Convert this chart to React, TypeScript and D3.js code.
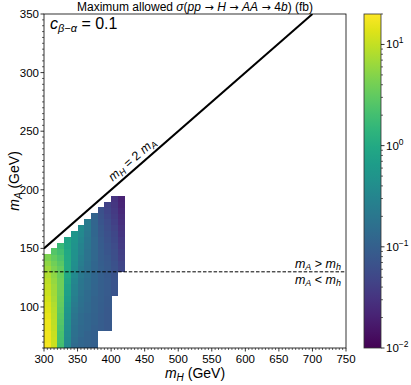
import React from "react";
import * as d3 from "d3";

// heatmap columns (m_H lower edge, 10 GeV wide) and the lowest m_A of each column (5 GeV rows)
const mHColumns = [300, 310, 320, 330, 340, 350, 360, 370, 380, 390, 400, 410];
const mABottom = [65, 65, 65, 65, 65, 65, 65, 65, 80, 80, 110, 130];

// max allowed sigma (fb), bottom row to top row
const sigma300 = [18, 17, 17, 16, 16, 15, 14, 13, 12, 11, 10, 9, 8, 6.5, 5.5, 4.5];
const sigma310 = [11, 11, 10.5, 10, 9.5, 9, 8.5, 8, 7.5, 7, 6.5, 6, 5.5, 4.5, 3.8, 3.2, 2.6];
const sigma320 = [2.0, 2.1, 2.2, 2.4, 2.6, 2.8, 3.0, 3.2, 3.4, 3.6, 3.7, 3.7, 3.5, 3.2, 2.8, 2.4, 2.0, 1.7];
const sigma330 = [0.36, 0.38, 0.4, 0.43, 0.46, 0.5, 0.55, 0.6, 0.66, 0.72, 0.8, 0.88, 0.95, 1.0, 1.0, 0.98, 0.94, 0.88, 0.82];
const sigma340 = [0.14, 0.15, 0.16, 0.17, 0.18, 0.19, 0.21, 0.23, 0.25, 0.27, 0.3, 0.33, 0.36, 0.4, 0.43, 0.46, 0.48, 0.5, 0.52, 0.52];
const sigma350 = [0.12, 0.12, 0.13, 0.13, 0.14, 0.14, 0.15, 0.16, 0.17, 0.18, 0.19, 0.2, 0.21, 0.22, 0.24, 0.26, 0.28, 0.3, 0.33, 0.36, 0.38];
const sigma360 = [0.11, 0.11, 0.11, 0.12, 0.12, 0.12, 0.13, 0.13, 0.14, 0.14, 0.15, 0.15, 0.16, 0.16, 0.17, 0.18, 0.18, 0.19, 0.2, 0.21, 0.22, 0.22];
const sigma370 = [0.1, 0.1, 0.1, 0.1, 0.105, 0.105, 0.11, 0.11, 0.11, 0.115, 0.115, 0.12, 0.12, 0.12, 0.12, 0.125, 0.125, 0.125, 0.125, 0.12, 0.12, 0.115, 0.11];
const sigma380 = [0.09, 0.09, 0.092, 0.094, 0.095, 0.096, 0.097, 0.098, 0.098, 0.097, 0.096, 0.094, 0.092, 0.09, 0.088, 0.085, 0.082, 0.078, 0.074, 0.07, 0.066];
const sigma390 = [0.08, 0.08, 0.081, 0.082, 0.083, 0.084, 0.085, 0.085, 0.085, 0.084, 0.083, 0.081, 0.078, 0.075, 0.072, 0.068, 0.064, 0.06, 0.056, 0.052, 0.048, 0.045];
const sigma400 = [0.072, 0.072, 0.071, 0.07, 0.068, 0.066, 0.063, 0.06, 0.057, 0.054, 0.05, 0.046, 0.042, 0.039, 0.036, 0.033, 0.031];
const sigma410 = [0.05, 0.047, 0.044, 0.041, 0.038, 0.035, 0.032, 0.03, 0.028, 0.026, 0.024, 0.022, 0.021];
const sigmaColumns = [sigma300, sigma310, sigma320, sigma330, sigma340, sigma350, sigma360, sigma370, sigma380, sigma390, sigma400, sigma410];

const xTicks = [300, 350, 400, 450, 500, 550, 600, 650, 700, 750];
const yTicks = [100, 150, 200, 250, 300, 350];
const cbarExponents = [1, 0, -1, -2];
const mhLine = 130;

const font = "'Liberation Sans', Arial, sans-serif";
const arrowFont = "'DejaVu Sans', sans-serif";

export default function App() {
  const left = 44, right = 346, top = 14, bottom = 348;
  const x = d3.scaleLinear().domain([300, 750]).range([left, right]);
  const y = d3.scaleLinear().domain([65, 350]).range([bottom, top]);
  const color = d3.scaleSequentialLog(d3.interpolateViridis).domain([0.01, 20]);
  const cbarY = d3.scaleLog().domain([0.01, 20]).range([bottom, top]);
  const cbX = 364, cbW = 17;

  const cells: { x: number; y: number; w: number; h: number; c: string }[] = [];
  mHColumns.forEach((mH, i) => {
    sigmaColumns[i].forEach((v, j) => {
      const mA = mABottom[i] + 5 * j;
      cells.push({
        x: x(mH),
        y: y(mA + 5),
        w: x(mH + 10) - x(mH),
        h: y(mA) - y(mA + 5),
        c: color(v),
      });
    });
  });

  const xMinor = d3.range(300, 751, 5).filter((v) => v % 50 !== 0);
  const yMinor = d3.range(65, 351, 5).filter((v) => v % 50 !== 0);
  const cbMinor: number[] = [];
  for (let d = -2; d <= 1; d++) {
    for (let k = 2; k <= 9; k++) {
      const v = k * Math.pow(10, d);
      if (v <= 20) cbMinor.push(v);
    }
  }
  const stops = d3.range(0, 1.0001, 0.05);

  // diagonal m_H = 2 m_A, label sits just above it
  const ang = (Math.atan2(y(150) - y(350), x(700) - x(300)) * 180) / Math.PI;
  const lx = x(440), ly = y(220);
  const rad = (ang * Math.PI) / 180;
  const off = 5;

  const sub = (s: string, fs: number, d: number) => (
    <tspan fontStyle="italic" fontSize={fs} dy={d}>{s}</tspan>
  );

  return (
    <svg width={411} height={385} style={{ position: "absolute", left: 0, top: 0, background: "#fff" }} fontFamily={font}>
      <defs>
        <clipPath id="plotClip">
          <rect x={left} y={top} width={right - left} height={bottom - top} />
        </clipPath>
        <linearGradient id="cbar" x1="0" y1="1" x2="0" y2="0">
          {stops.map((t) => (
            <stop key={t} offset={t} stopColor={d3.interpolateViridis(t)} />
          ))}
        </linearGradient>
      </defs>

      {/* heatmap */}
      <g shapeRendering="crispEdges">
        {cells.map((c, i) => (
          <rect key={i} x={c.x} y={c.y} width={c.w + 0.4} height={c.h + 0.4} fill={c.c} />
        ))}
      </g>

      <g clipPath="url(#plotClip)">
        <line x1={x(300)} y1={y(150)} x2={x(700)} y2={y(350)} stroke="#000" strokeWidth={2} />
        <line x1={left} x2={right} y1={y(mhLine)} y2={y(mhLine)} stroke="#000" strokeWidth={1} strokeDasharray="3.5,1.8" />
      </g>

      <text
        transform={`translate(${lx - off * Math.sin(rad)},${ly - off * Math.cos(rad)}) rotate(${-ang})`}
        textAnchor="middle"
        fontSize={12.5}
      >
        <tspan fontStyle="italic">m</tspan>
        {sub("H", 9, 2.5)}
        <tspan dy={-2.5}> = 2 </tspan>
        <tspan fontStyle="italic">m</tspan>
        {sub("A", 9, 2.5)}
      </text>

      <text x={341} y={y(mhLine) - 4} textAnchor="end" fontSize={12.5}>
        <tspan fontStyle="italic">m</tspan>
        {sub("A", 9, 2.5)}
        <tspan dy={-2.5}> &gt; </tspan>
        <tspan fontStyle="italic">m</tspan>
        {sub("h", 9, 2.5)}
      </text>
      <text x={341} y={y(mhLine) + 12} textAnchor="end" fontSize={12.5}>
        <tspan fontStyle="italic">m</tspan>
        {sub("A", 9, 2.5)}
        <tspan dy={-2.5}> &lt; </tspan>
        <tspan fontStyle="italic">m</tspan>
        {sub("h", 9, 2.5)}
      </text>

      <text x={50} y={29} fontSize={16}>
        <tspan fontStyle="italic">c</tspan>
        <tspan fontStyle="italic" fontSize={11} dy={3}>β−α</tspan>
        <tspan dy={-3}> = 0.1</tspan>
      </text>

      {/* frame */}
      <rect x={left} y={top} width={right - left} height={bottom - top} fill="none" stroke="#000" strokeWidth={0.8} />

      {/* x axis */}
      <g fontSize={11.5} textAnchor="middle">
        {xTicks.map((t) => (
          <g key={t}>
            <line x1={x(t)} x2={x(t)} y1={bottom} y2={bottom + 3.5} stroke="#000" strokeWidth={0.8} />
            <text x={x(t)} y={bottom + 15}>{t}</text>
          </g>
        ))}
        {xMinor.map((t) => (
          <line key={t} x1={x(t)} x2={x(t)} y1={bottom} y2={bottom + 2} stroke="#000" strokeWidth={0.6} />
        ))}
      </g>
      <text x={(left + right) / 2} y={378} textAnchor="middle" fontSize={14}>
        <tspan fontStyle="italic">m</tspan>
        {sub("H", 10, 3)}
        <tspan dy={-3}> (GeV)</tspan>
      </text>

      {/* y axis */}
      <g fontSize={11.5} textAnchor="end">
        {yTicks.map((t) => (
          <g key={t}>
            <line x1={left - 3.5} x2={left} y1={y(t)} y2={y(t)} stroke="#000" strokeWidth={0.8} />
            <text x={left - 5} y={y(t) + 4}>{t}</text>
          </g>
        ))}
        {yMinor.map((t) => (
          <line key={t} x1={left - 2} x2={left} y1={y(t)} y2={y(t)} stroke="#000" strokeWidth={0.6} />
        ))}
      </g>
      <text transform={`translate(19,${(top + bottom) / 2}) rotate(-90)`} textAnchor="middle" fontSize={14}>
        <tspan fontStyle="italic">m</tspan>
        {sub("A", 10, 3)}
        <tspan dy={-3}> (GeV)</tspan>
      </text>

      {/* title */}
      <text x={(left + right) / 2} y={11} textAnchor="middle" fontSize={12}>
        <tspan>Maximum allowed </tspan>
        <tspan fontStyle="italic">σ</tspan>
        <tspan>(</tspan>
        <tspan fontStyle="italic">pp</tspan>
        <tspan fontFamily={arrowFont} fontSize={11}> → </tspan>
        <tspan fontStyle="italic">H</tspan>
        <tspan fontFamily={arrowFont} fontSize={11}> → </tspan>
        <tspan fontStyle="italic">AA</tspan>
        <tspan fontFamily={arrowFont} fontSize={11}> → </tspan>
        <tspan>4</tspan>
        <tspan fontStyle="italic">b</tspan>
        <tspan>) (fb)</tspan>
      </text>

      {/* colorbar */}
      <rect x={cbX} y={top} width={cbW} height={bottom - top} fill="url(#cbar)" stroke="#333" strokeWidth={0.8} />
      {cbMinor.map((v) => (
        <line key={v} x1={cbX + cbW} x2={cbX + cbW + 2} y1={cbarY(v)} y2={cbarY(v)} stroke="#000" strokeWidth={0.6} />
      ))}
      {cbarExponents.map((e) => (
        <g key={e}>
          <line x1={cbX + cbW} x2={cbX + cbW + 3.5} y1={cbarY(Math.pow(10, e))} y2={cbarY(Math.pow(10, e))} stroke="#000" strokeWidth={0.8} />
          <text x={cbX + cbW + 5} y={cbarY(Math.pow(10, e)) + 4} fontSize={11.5}>
            <tspan>10</tspan>
            <tspan fontSize={8.5} dy={-5}>{e < 0 ? `−${-e}` : `${e}`}</tspan>
          </text>
        </g>
      ))}
    </svg>
  );
}
